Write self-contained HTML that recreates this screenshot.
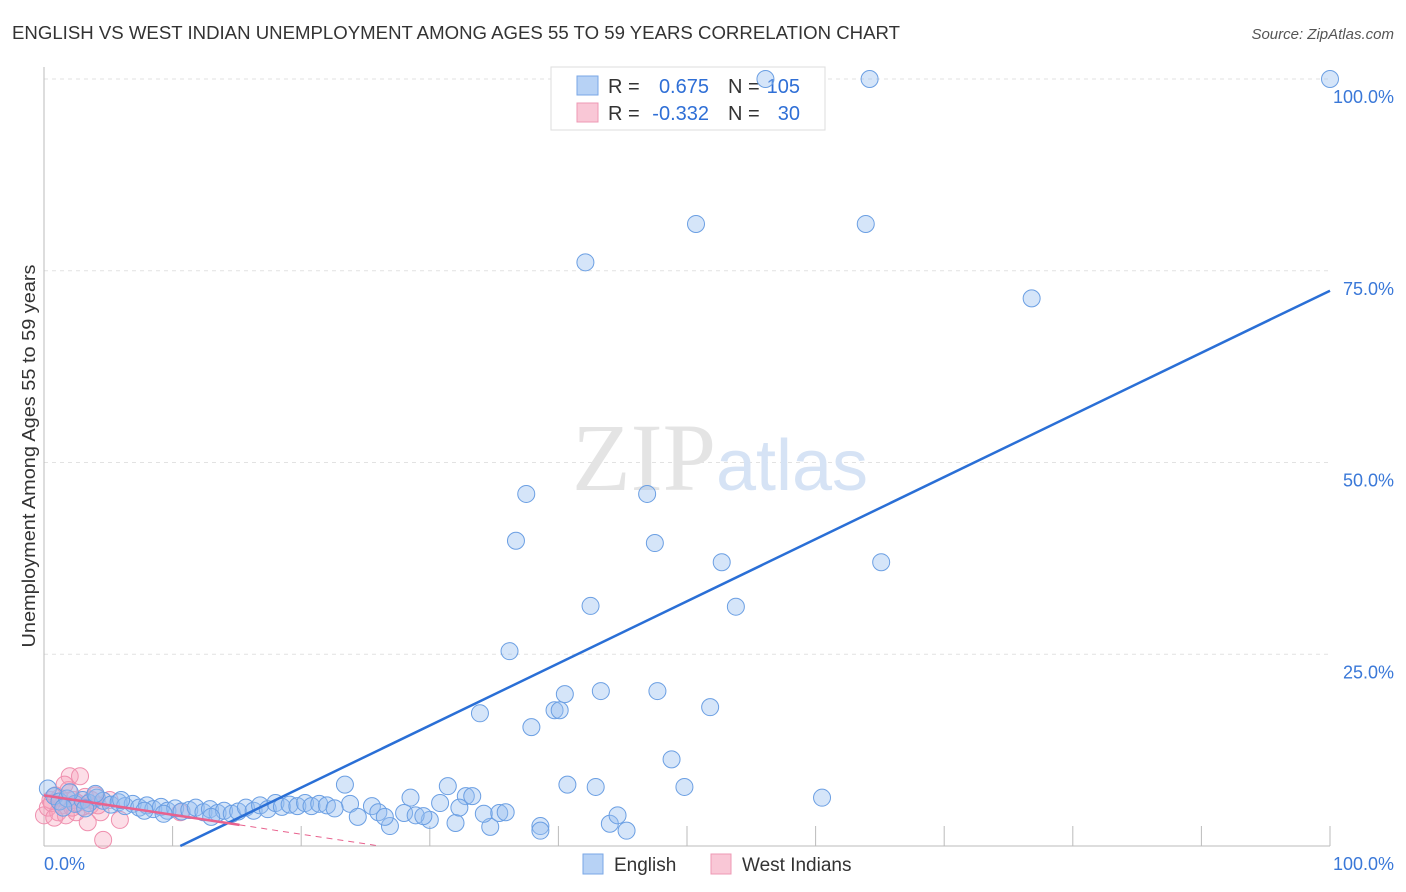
<!DOCTYPE html>
<html><head><meta charset="utf-8"><style>
body{margin:0;background:#fff;font-family:"Liberation Sans",sans-serif;}
#c{position:absolute;left:0;top:0;}
</style></head><body>
<svg id="c" width="1406" height="892">
<text x="12" y="39" font-size="18" fill="#333" textLength="888" lengthAdjust="spacingAndGlyphs">ENGLISH VS WEST INDIAN UNEMPLOYMENT AMONG AGES 55 TO 59 YEARS CORRELATION CHART</text>
<text x="1394" y="39" font-size="15" fill="#555" font-style="italic" text-anchor="end">Source: ZipAtlas.com</text>
<text x="35" y="456" font-size="18" fill="#333" text-anchor="middle" textLength="383" lengthAdjust="spacingAndGlyphs" transform="rotate(-90 35 456)">Unemployment Among Ages 55 to 59 years</text>
<g id="grid"></g>
<text x="720" y="490" font-size="96" fill="#e4e4e4" text-anchor="middle" font-family="Liberation Serif,serif">ZIP<tspan fill="#d6e3f5" font-family="Liberation Sans,sans-serif" font-size="72">atlas</tspan></text>
<g>
<rect x="551" y="67" width="274" height="63" fill="#fff" stroke="#ddd"/>
<rect x="577" y="76" width="21" height="19" fill="#b7d2f5" stroke="#7aa7e6"/>
<text x="608" y="93" font-size="20" fill="#333">R =</text><text x="709" y="93" font-size="20" fill="#2f6fd6" text-anchor="end">0.675</text>
<text x="728" y="93" font-size="20" fill="#333">N =</text><text x="800" y="93" font-size="20" fill="#2f6fd6" text-anchor="end">105</text>
<rect x="577" y="103" width="21" height="19" fill="#f9c7d6" stroke="#ee98b4"/>
<text x="608" y="120" font-size="20" fill="#333">R =</text><text x="709" y="120" font-size="20" fill="#2f6fd6" text-anchor="end">-0.332</text>
<text x="728" y="120" font-size="20" fill="#333">N =</text><text x="800" y="120" font-size="20" fill="#2f6fd6" text-anchor="end">30</text>
</g>
<g id="pts"></g>
<g id="lines"></g>
<g>
<rect x="583" y="854" width="20" height="20" fill="#b7d2f5" stroke="#7aa7e6"/>
<text x="614" y="871" font-size="19" fill="#333">English</text>
<rect x="711" y="854" width="20" height="20" fill="#f9c7d6" stroke="#ee98b4"/>
<text x="742" y="871" font-size="19" fill="#333">West Indians</text>
</g>
<text x="44" y="870" font-size="18" fill="#3a78d8">0.0%</text>
<text x="1394" y="870" font-size="18" fill="#3a78d8" text-anchor="end">100.0%</text>
</svg>
<script>
const yTicks=[25,50,75,100];
const yTickLabels=["25.0%","50.0%","75.0%","100.0%"];
const xTicks=[10,20,30,40,50,60,70,80,90,100];
const engX=[56.1,64.2,100,50.7,63.9,42.1,76.8,37.5,46.9,36.7,47.5,52.7,65.1,42.5,53.8,36.2,43.3,47.7,40.5,39.7,40.1,51.8,33.9,37.9,48.8,23.4,31.4,40.7,42.9,49.8,60.5,28.5,32.8,33.3,30.8,23.8,25.5,38.6,45.3,38.6,44.0,34.7,26.9,30.0,32.0,44.6,34.2,35.4,35.9,24.4,26.0,26.5,28.0,28.9,29.5,32.3,
0.3,0.8,1.2,1.8,2.4,3.0,3.5,4.1,4.6,5.2,5.8,6.3,6.9,7.4,8.0,8.5,9.1,9.6,10.2,10.7,11.3,11.8,12.4,12.9,13.5,14.0,14.6,15.1,15.7,16.3,16.8,17.4,18.0,18.5,19.1,19.7,20.3,20.8,21.4,22.0,22.6,2.0,4.0,6.0,1.5,3.2,7.8,9.3,13.0];
const engY=[100,100,100,81.1,81.1,76.1,71.4,45.9,45.9,39.8,39.5,37.0,37.0,31.3,31.2,25.4,20.2,20.2,19.8,17.7,17.7,18.1,17.3,15.5,11.3,8.0,7.8,8.0,7.7,7.7,6.3,6.3,6.5,6.5,5.6,5.5,5.2,2.6,2.0,2.0,2.9,2.5,2.6,3.4,3.0,4.0,4.2,4.3,4.4,3.8,4.4,3.8,4.3,4.0,3.9,5.0,
7.5,6.5,5.8,6.2,5.5,6.0,5.6,6.3,5.9,5.4,5.7,5.2,5.5,5.0,5.3,4.8,5.1,4.6,4.9,4.5,4.7,5.0,4.4,4.8,4.3,4.6,4.2,4.5,5.0,4.6,5.3,4.8,5.6,5.1,5.4,5.2,5.6,5.2,5.5,5.3,4.9,7.0,6.8,6.0,5.0,4.9,4.6,4.2,3.8];
const wiX=[0,0.5,0.9,1.4,1.9,2.0,2.8,2.3,3.2,3.6,4.0,4.4,3.4,5.9,4.6,0.3,1.1,1.7,2.5,5.1,10.6,1.2,0.6,3.0,2.2,3.7,4.2,1.6,0.8,2.6];
const wiY=[4.0,6.0,6.6,5.3,7.3,9.1,9.1,6.0,6.4,5.3,6.6,4.4,3.1,3.4,0.8,5.0,4.4,4.0,4.4,6.0,4.4,6.3,5.6,5.1,5.0,6.0,5.3,8.0,3.7,5.6];
const engLine=[[10.6,0],[100,72.4]];
const wiLine=[[0,6.6],[15.2,2.75],[26.1,0]];
const X=v=>44+v*12.86, Y=v=>846-v*7.67;
const NS="http://www.w3.org/2000/svg";
function mk(t,a,p){const e=document.createElementNS(NS,t);for(const k in a)e.setAttribute(k,a[k]);p.appendChild(e);return e;}
const g=document.getElementById('grid');
mk('line',{x1:44,y1:Y(100),x2:1330,y2:Y(100),stroke:'#ddd','stroke-dasharray':'4 4'},g);
yTicks.forEach((t,i)=>{const l=mk('line',{x1:44,y1:Y(t),x2:1330,y2:Y(t),stroke:'#e2e2e2','stroke-dasharray':'4 4'},g);


const tx=mk('text',{x:1394,y:Y(t)+24,'font-size':18,fill:'#3a78d8','text-anchor':'end'},g);tx.textContent=yTickLabels[i];

});
mk('line',{x1:44,y1:67,x2:44,y2:846,stroke:'#bbb'},g);
mk('line',{x1:44,y1:846,x2:1330,y2:846,stroke:'#bbb'},g);
xTicks.forEach(t=>{const l=mk('line',{x1:X(t),y1:846,x2:X(t),y2:826,stroke:'#bbb'},g);

});
const p=document.getElementById('pts');
wiX.forEach((v,i)=>{const c=mk('circle',{cx:X(v),cy:Y(wiY[i]),r:8.5,fill:'rgba(246,160,185,0.35)',stroke:'#ef8fae','stroke-width':1},p);

});
engX.forEach((v,i)=>{const c=mk('circle',{cx:X(v),cy:Y(engY[i]),r:8.5,fill:'rgba(150,190,240,0.4)',stroke:'#6b9fe3','stroke-width':1},p);

});
const L=document.getElementById('lines');
const bl=mk('line',{x1:X(engLine[0][0]),y1:Y(engLine[0][1]),x2:X(engLine[1][0]),y2:Y(engLine[1][1]),stroke:'#2a6fd6','stroke-width':2.5},L);


const pl=mk('line',{x1:X(wiLine[0][0]),y1:Y(wiLine[0][1]),x2:X(wiLine[1][0]),y2:Y(wiLine[1][1]),stroke:'#e8628e','stroke-width':2.5},L);


const pd=mk('line',{x1:X(wiLine[1][0]),y1:Y(wiLine[1][1]),x2:X(wiLine[2][0]),y2:Y(wiLine[2][1]),stroke:'#e8628e','stroke-width':1,'stroke-dasharray':'6 5'},L);


</script>
</body></html>
